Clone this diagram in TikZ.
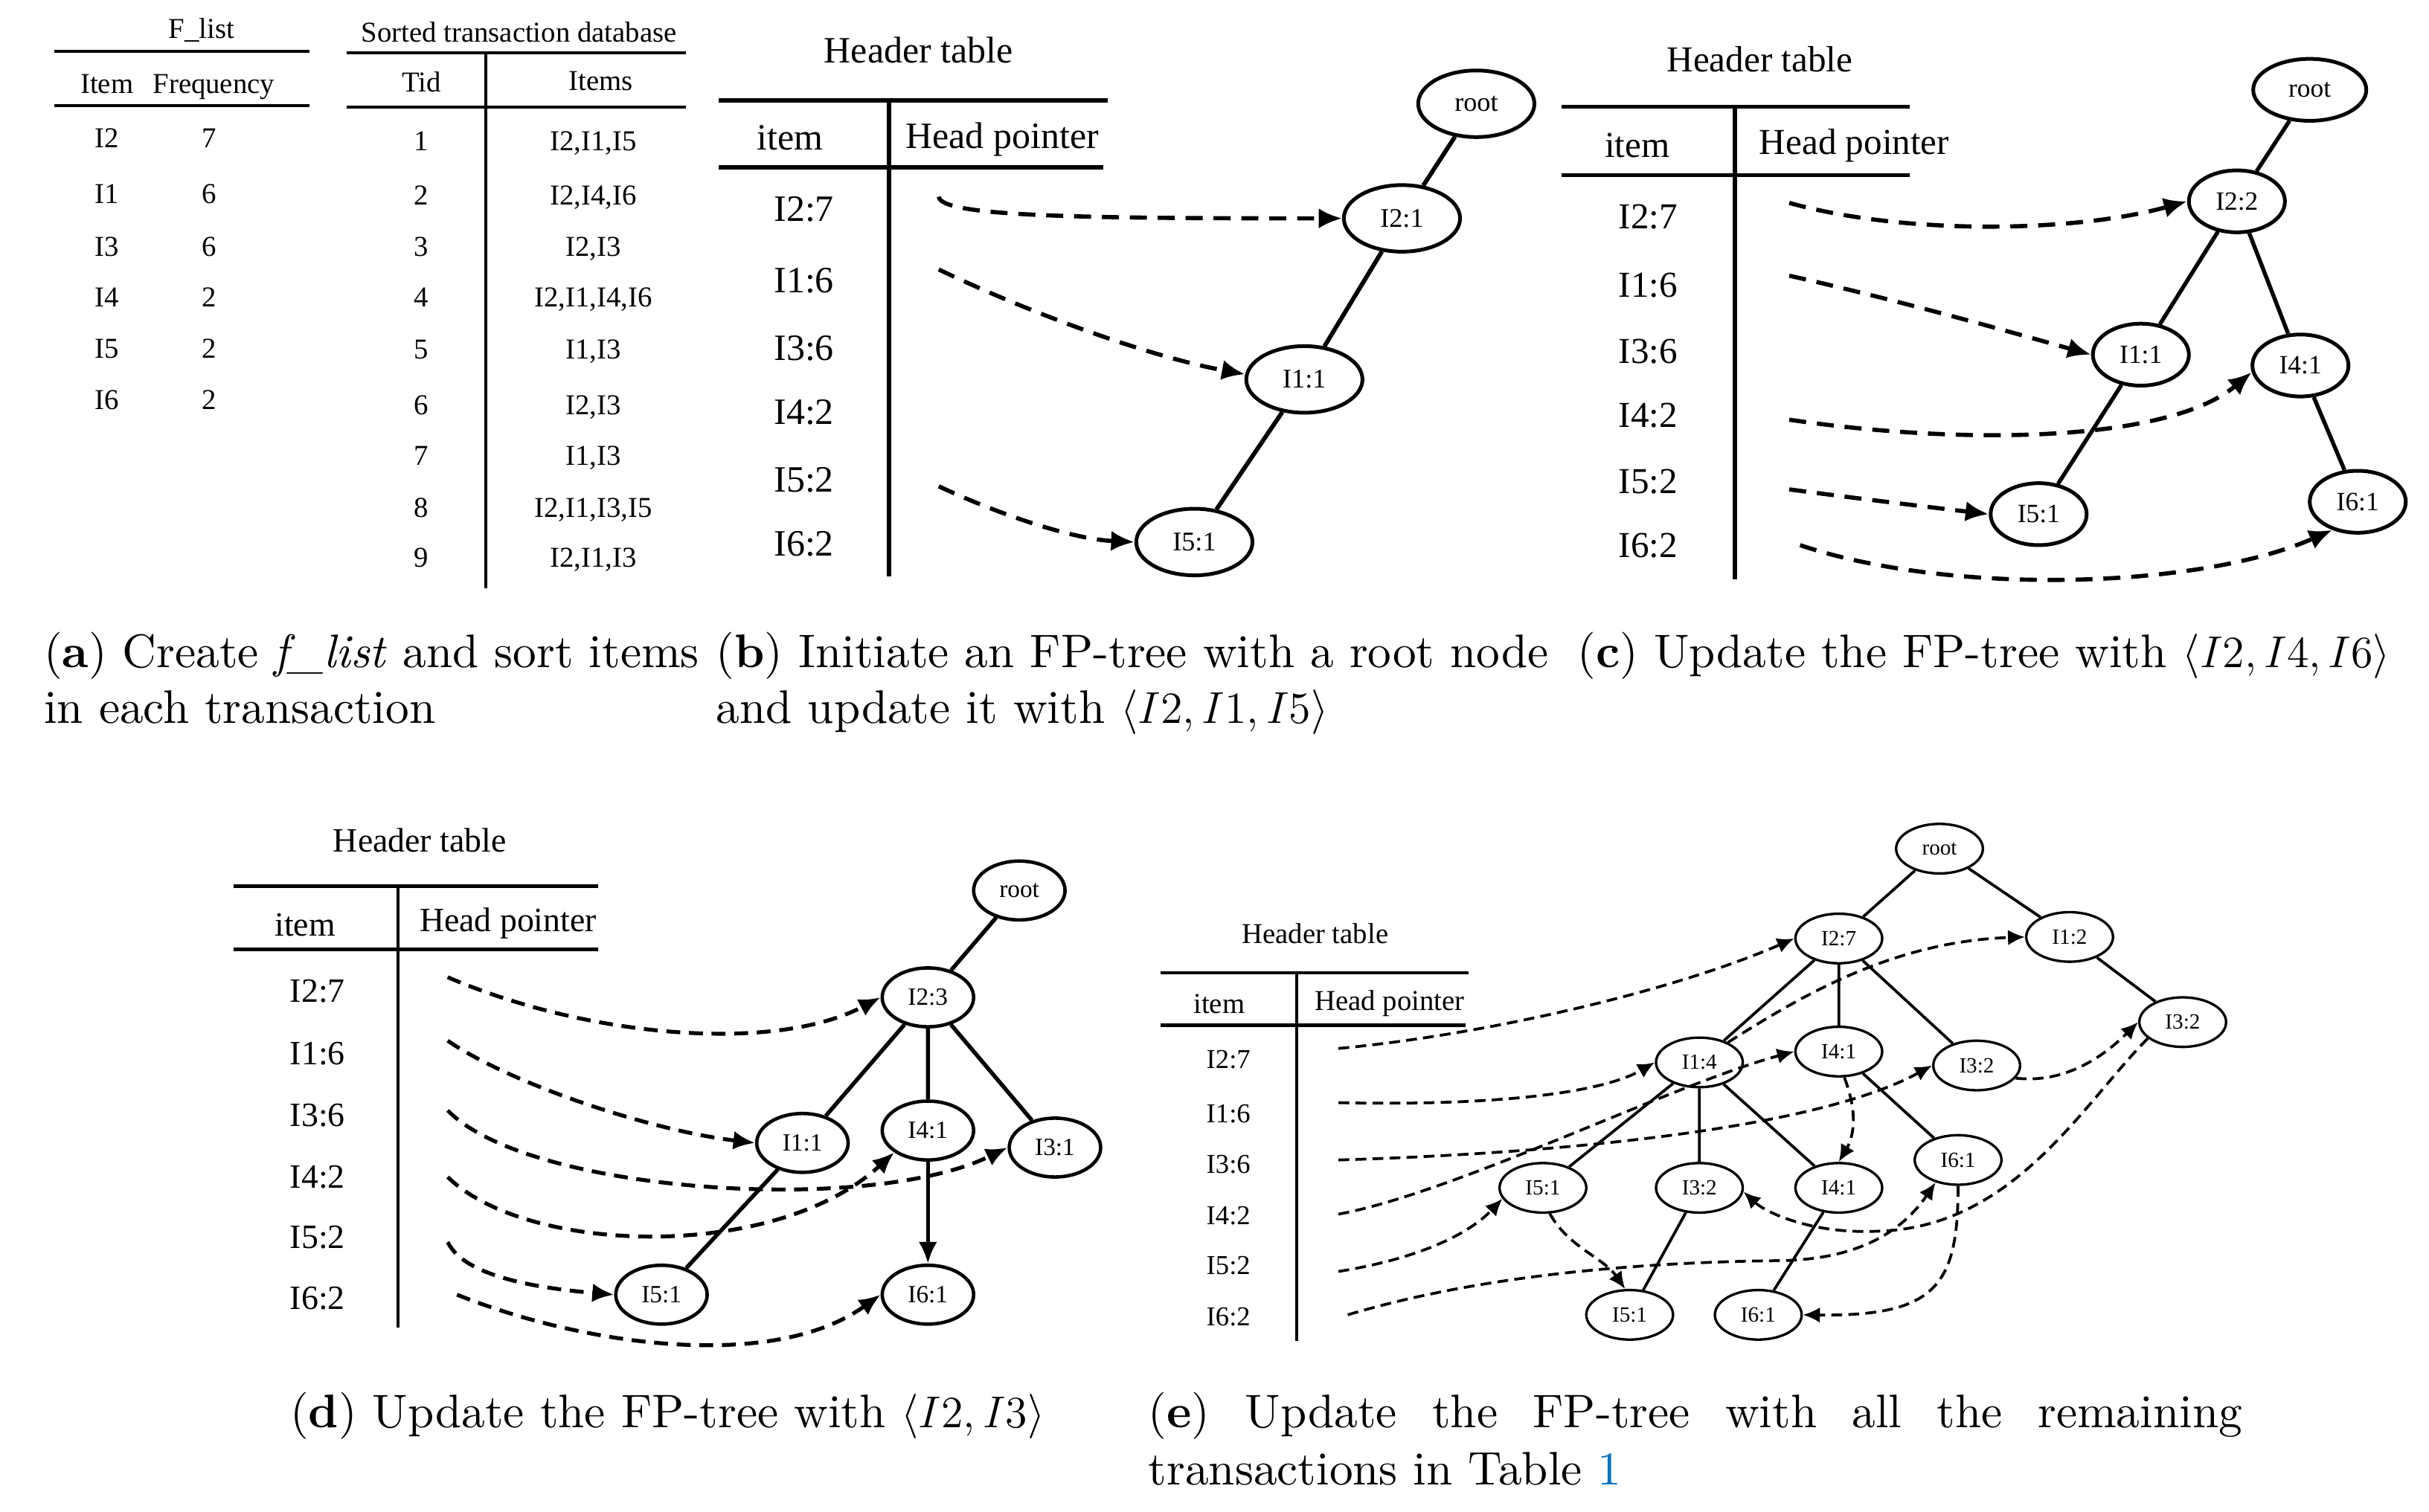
\documentclass[tikz,border=0pt]{standalone}
\usepackage{fontspec}
\usetikzlibrary{arrows.meta,shapes.geometric}
\newfontfamily\tms{Liberation Serif}
\newfontfamily\capfont{lmroman10}[Extension=.otf,UprightFont=*-regular,BoldFont=*-bold,ItalicFont=*-italic,BoldItalicFont=*-bolditalic]
\newcommand{\myfs}[1]{\tms\fontsize{#1}{#1}\selectfont}
\definecolor{linkblue}{RGB}{0,112,192}
\begin{document}
\begin{tikzpicture}[x=0.5pt,y=-0.5pt,
  tx/.style 2 args={font=\myfs{#1},inner sep=0pt,text height=#2,text depth=0pt},
  captxt/.style={font=\capfont\fontsize{15.2}{18}\selectfont,inner sep=0pt,anchor=base west},
  ell/.style={ellipse,draw,inner sep=0pt},
  ellB/.style={ell,minimum width=37.5pt,minimum height=21.5pt,line width=1.2pt,font=\myfs{8.7}},
  ellC/.style={ell,minimum width=31pt,minimum height=20pt,line width=1.2pt,font=\myfs{8.5}},
  ellD/.style={ell,minimum width=29.5pt,minimum height=19pt,line width=1.1pt,font=\myfs{8}},
  ellE/.style={ell,minimum width=28pt,minimum height=16pt,line width=0.8pt,font=\myfs{7}},
  edB/.style={line width=1.4pt},
  edC/.style={line width=1.3pt},
  edD/.style={line width=1.3pt},
  edE/.style={line width=0.9pt},
  dB/.style={line width=1.35pt,dash pattern=on 5.5pt off 3.5pt,-{Latex[length=7.5pt,width=6.5pt]}},
  dD/.style={line width=1.25pt,dash pattern=on 4.5pt off 2.8pt,-{Latex[length=7pt,width=6pt]}},
  dE/.style={line width=0.9pt,dash pattern=on 3.5pt off 2pt,-{Latex[length=5.5pt,width=5pt]}},
]
\useasboundingbox (0,0) rectangle (1568,976);

% ---------------- (a) ----------------
\node[tx={9.3}{6.2pt}] (aF) at (130,18.4) {F\_list};
\draw[line width=1pt] (35,33) -- (200,33) (35,68) -- (200,68);
\node[tx={9.3}{6.2pt}] (aI) at (69,54) {Item};
\node[tx={9.3}{6.2pt}] (aFr) at (138,54) {Frequency};
\foreach \ia/\fb/\y [count=\k] in {I2/7/89,I1/6/125,I3/6/159,I4/2/192,I5/2/225,I6/2/258}{
  \node[tx={9.3}{6.2pt}] (ai\k) at (69,\y) {\ia};
  \node[tx={9.3}{6.2pt}] (af\k) at (135,\y) {\fb};
}
\node[tx={9.3}{6.2pt}] (aS) at (335,21) {Sorted transaction database};
\draw[line width=1pt] (224,34) -- (443,34) (224,69) -- (443,69) (313.6,34) -- (313.6,380);
\node[tx={9.3}{6.2pt}] (aT) at (272,53) {Tid};
\node[tx={9.3}{6.2pt}] (aIs) at (388,52) {Items};
\foreach \tid/\its/\y in {1/{I2,I1,I5}/91,2/{I2,I4,I6}/126,3/{I2,I3}/159,4/{I2,I1,I4,I6}/192,5/{I1,I3}/225.5,6/{I2,I3}/261.5,7/{I1,I3}/294,8/{I2,I1,I3,I5}/328,9/{I2,I1,I3}/360}{
  \node[tx={9.3}{6.2pt}] (at\tid) at (272,\y) {\tid};
  \node[tx={9.3}{6.2pt}] (as\tid) at (383,\y) {\its};
}

% ---------------- (b) ----------------
\node[tx={12}{7.9pt}] (bht) at (593,32.5) {Header table};
\draw[line width=1.4pt] (464,65) -- (715,65) (464,108) -- (712,108) (574,65) -- (574,372);
\node[tx={12}{7.9pt}] (bit) at (510,89) {item};
\node[tx={12}{7.9pt}] (bhp) at (647,88) {Head pointer};
\foreach \lab/\y [count=\k] in {I2:7/135,I1:6/181,I3:6/225,I4:2/266,I5:2/310,I6:2/351}
  \node[tx={12}{7.9pt}] (br\k) at (519,\y) {\lab};
\node[ellB] (bR) at (953,67) {root};
\node[ellB] (b21) at (905,141) {I2:1};
\node[ellB] (b11) at (842,245) {I1:1};
\node[ellB] (b51) at (771,350) {I5:1};
\draw[edB] (bR) -- (b21) -- (b11) -- (b51);
\coordinate (bs1) at (606,127);
\coordinate (bs2) at (606,174);
\coordinate (bs3) at (606,314);
\draw[dB] (bs1) .. controls (607,140) and (700,141) .. (b21.west);
\draw[dB] (bs2) .. controls (660,200) and (740,230) .. (b11.175);
\draw[dB] (bs3) .. controls (640,330) and (690,348) .. (b51.west);

% ---------------- (c) ----------------
\node[tx={11.8}{7.8pt}] (cht) at (1136,38.5) {Header table};
\draw[line width=1.3pt] (1008,69) -- (1233,69) (1008,113) -- (1233,113) (1120,69) -- (1120,374);
\node[tx={11.8}{7.8pt}] (cit) at (1057,94) {item};
\node[tx={11.8}{7.8pt}] (chp) at (1197,92) {Head pointer};
\foreach \lab/\y [count=\k] in {I2:7/140,I1:6/184,I3:6/227,I4:2/268,I5:2/311,I6:2/352}
  \node[tx={11.8}{7.8pt}] (cr\k) at (1064,\y) {\lab};
\node[ellC,minimum width=36.5pt] (cR) at (1491,58) {root};
\node[ellC] (c22) at (1444,130) {I2:2};
\node[ellC] (c11) at (1382,229) {I1:1};
\node[ellC] (c41) at (1485,236) {I4:1};
\node[ellC] (c51) at (1316,332) {I5:1};
\node[ellC] (c61) at (1522,324) {I6:1};
\draw[edC] (cR) -- (c22) (c22) -- (c11) (c22) -- (c41) (c11) -- (c51) (c41) -- (c61);
\coordinate (cs1) at (1155,131);
\coordinate (cs2) at (1155,178);
\coordinate (cs4) at (1155,271);
\coordinate (cs5) at (1155,316);
\coordinate (cs6) at (1162,352);
\draw[dB] (cs1) .. controls (1230,152) and (1340,150) .. (c22.west);
\draw[dB] (cs2) .. controls (1230,195) and (1300,215) .. (c11.west);
\draw[dB] (cs4) .. controls (1270,288) and (1400,285) .. (c41.188);
\draw[dB] (cs5) .. controls (1200,322) and (1250,328) .. (c51.west);
\draw[dB] (cs6) .. controls (1260,385) and (1420,380) .. (c61.228);

% ---------------- (d) ----------------
\node[tx={11}{7.3pt}] (dht) at (271,543) {Header table};
\draw[line width=1.2pt] (151,572) -- (386,572) (151,613) -- (386,613);
\draw[line width=1pt] (257,572) -- (257,857);
\node[tx={11}{7.3pt}] (dit) at (197,597) {item};
\node[tx={11}{7.3pt}] (dhp) at (328,594) {Head pointer};
\foreach \lab/\y [count=\k] in {I2:7/640,I1:6/680,I3:6/720,I4:2/760,I5:2/799,I6:2/838}
  \node[tx={11}{7.3pt}] (dr\k) at (205,\y) {\lab};
\node[ellD] (dR) at (658,575) {root};
\node[ellD] (d23) at (599,644) {I2:3};
\node[ellD] (d11) at (518,738) {I1:1};
\node[ellD] (d41) at (599,730) {I4:1};
\node[ellD] (d31) at (681,741) {I3:1};
\node[ellD] (d51) at (427,836) {I5:1};
\node[ellD] (d61) at (599,836) {I6:1};
\draw[edD] (dR) -- (d23) (d23) -- (d11) (d23) -- (d41) (d23) -- (d31) (d11) -- (d51);
\draw[edD,-{Latex[length=7pt,width=6pt]}] (d41) -- (d61);
\coordinate (ds1) at (289,631);
\coordinate (ds2) at (289,672);
\coordinate (ds3) at (289,717);
\coordinate (ds4) at (289,760);
\coordinate (ds5) at (289,802);
\coordinate (ds6) at (295,836);
\draw[dD] (ds1) .. controls (380,670) and (500,680) .. (d23.west);
\draw[dD] (ds2) .. controls (330,700) and (420,730) .. (d11.west);
\draw[dD] (ds3) .. controls (340,770) and (560,785) .. (d31.west);
\draw[dD] (ds4) .. controls (340,810) and (500,815) .. (d41.213);
\draw[dD] (ds5) .. controls (300,825) and (350,832) .. (d51.west);
\draw[dD] (ds6) .. controls (380,870) and (500,885) .. (d61.west);

% ---------------- (e) ----------------
\node[tx={9.3}{6.2pt}] (eht) at (849,603) {Header table};
\draw[line width=1pt] (749,628) -- (948,628) (749,662) -- (946,662);
\draw[line width=0.8pt] (837,628) -- (837,866);
\node[tx={9.3}{6.2pt}] (eit) at (787,648) {item};
\node[tx={9.3}{6.2pt}] (ehp) at (897,646) {Head pointer};
\foreach \lab/\y [count=\k] in {I2:7/684,I1:6/719,I3:6/752,I4:2/785,I5:2/817,I6:2/850}
  \node[tx={8.8}{5.8pt}] (er\k) at (793,\y) {\lab};
\node[ellE] (eR) at (1252,548) {root};
\node[ellE] (e27) at (1187,606) {I2:7};
\node[ellE] (e12) at (1336,605) {I1:2};
\node[ellE] (e3r) at (1409,660) {I3:2};
\node[ellE] (e14) at (1097,686) {I1:4};
\node[ellE] (e4t) at (1187,679) {I4:1};
\node[ellE] (e3m) at (1276,688) {I3:2};
\node[ellE] (e5a) at (996,767) {I5:1};
\node[ellE] (e3l) at (1097,767) {I3:2};
\node[ellE] (e4l) at (1187,767) {I4:1};
\node[ellE] (e6r) at (1264,749) {I6:1};
\node[ellE] (e5b) at (1052,849) {I5:1};
\node[ellE] (e6b) at (1135,849) {I6:1};
\draw[edE] (eR) -- (e27) (eR) -- (e12) (e12) -- (e3r) (e27) -- (e14) (e27) -- (e4t)
  (e27) -- (e3m) (e14) -- (e5a) (e14) -- (e3l) (e14) -- (e4l) (e4t) -- (e6r)
  (e3l) -- (e5b) (e4l) -- (e6b);
\coordinate (es1) at (864,677);
\coordinate (es2) at (864,712);
\coordinate (es3) at (864,749);
\coordinate (es4) at (864,784);
\coordinate (es5) at (864,821);
\coordinate (es6) at (870,849);
\draw[dE] (es1) .. controls (960,668) and (1080,640) .. (e27.west);
\draw[dE] (es2) .. controls (950,714) and (1030,708) .. (e14.west);
\draw[dE] (es3) .. controls (1000,745) and (1170,730) .. (e3m.west);
\draw[dE] (es4) .. controls (940,770) and (1080,700) .. (e4t.west);
\draw[dE] (es5) .. controls (920,812) and (950,795) .. (e5a.195);
\draw[dE] (es6) .. controls (950,825) and (1050,815) .. (1150,814) .. controls (1200,813) and (1228,795) .. (e6r.225);
\draw[dE] (e14.35) .. controls (1160,645) and (1220,608) .. (e12.west);
\draw[dE] (e4t.282) .. controls (1200,720) and (1196,735) .. (e4l.north);
\draw[dE] (e3m.342) .. controls (1335,700) and (1360,680) .. (e3r.west);
\draw[dE] (e3r.205) .. controls (1345,712) and (1300,793) .. (1212,795) .. controls (1170,797) and (1140,783) .. (e3l.355);
\draw[dE] (e5a.285) .. controls (1012,805) and (1035,812) .. (e5b.100);
\draw[dE] (e6r.south) .. controls (1264,830) and (1250,850) .. (e6b.east);

% ---------------- captions ----------------
\node[captxt] (ca1) at (28,431) {(\textbf{a}) Create \textit{f\_list} and sort items};
\node[captxt] (ca2) at (28,467) {in each transaction};
\node[captxt] (cb1) at (462,431) {(\textbf{b}) Initiate an FP-tree with a root node};
\node[captxt] (cb2) at (462,467) {and update it with $\langle I2, I1, I5\rangle$};
\node[captxt] (cc1) at (1018,431) {(\textbf{c}) Update the FP-tree with $\langle I2, I4, I6\rangle$};
\node[captxt] (cd1) at (187,922) {(\textbf{d}) Update the FP-tree with $\langle I2, I3\rangle$};
\node[captxt] (ce1) at (741,922) {\makebox[353pt][s]{(\textbf{e}) Update the FP-tree with all the remaining}};
\node[captxt] (ce2) at (741,959) {transactions in Table \textcolor{linkblue}{1}};
\end{tikzpicture}
\end{document}
